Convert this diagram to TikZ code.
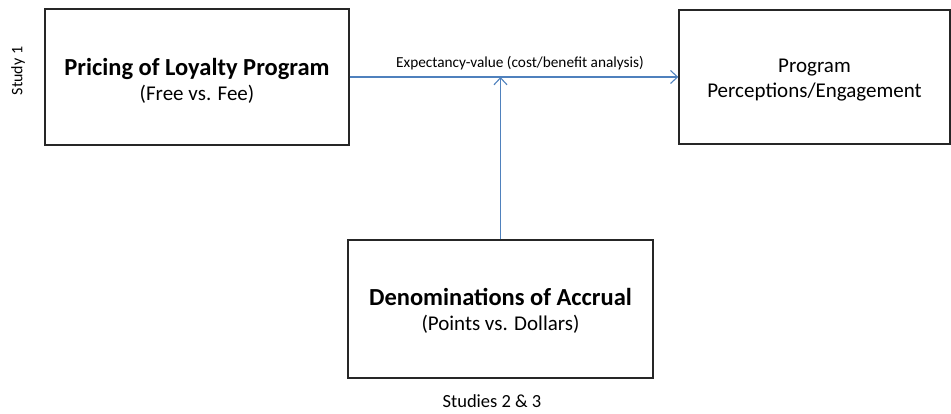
\documentclass[tikz,border=0pt]{standalone}
\usepackage{fontspec}
\setmainfont{Carlito}
\usetikzlibrary{arrows.meta}
\definecolor{linkblue}{RGB}{79,129,189}
\tikzset{
  box/.style={draw=black!85, line width=1.4pt, inner sep=0pt},
  boxtext/.style={inner sep=0pt, align=center, font=\fontsize{21}{25}\selectfont},
  conn/.style={draw=linkblue, line width=1.3pt, -{Straight Barb[length=7pt,width=13pt,line width=1.1pt]}},
  side/.style={inner sep=0pt}
}
\newcommand{\bxtitle}[1]{{\fontsize{24.5}{25}\selectfont\bfseries #1}}
\begin{document}
\begin{tikzpicture}[x=1pt,y=-1pt]
\useasboundingbox (0,0) rectangle (951,414);
\node[box, minimum width=304pt, minimum height=136pt] (price) at (197,77) {};
\node[boxtext] (pricetxt) at ([yshift=-4pt]price.center)
  {\bxtitle{Pricing of Loyalty Program}\\(Free vs. Fee)};
\node[box, minimum width=271pt, minimum height=134pt] (perc) at (814.5,77) {};
\node[boxtext] (perctxt) at ([yshift=-3pt]perc.center)
  {Program\\Perceptions/Engagement};
\node[box, minimum width=305pt, minimum height=138pt] (denom) at (500.5,309) {};
\node[boxtext] (denomtxt) at ([yshift=-2pt]denom.center)
  {\bxtitle{Denominations of Accrual}\\(Points vs. Dollars)};
\node[side, rotate=90, font=\fontsize{16}{19}\selectfont] (s1) at (18,71) {Study 1};
\node[side, font=\fontsize{18.5}{22}\selectfont] (s23) at (492,401) {Studies 2 \& 3};
\coordinate (meet) at (denom.north |- price.east);
\draw[conn] (price.east) -- (perc.west);
\draw[conn] (denom.north) -- (meet);
\node[font=\fontsize{15.3}{18}\selectfont, inner sep=0pt] (lbl) at (520,63) {Expectancy-value (cost/benefit analysis)};
\end{tikzpicture}
\end{document}
